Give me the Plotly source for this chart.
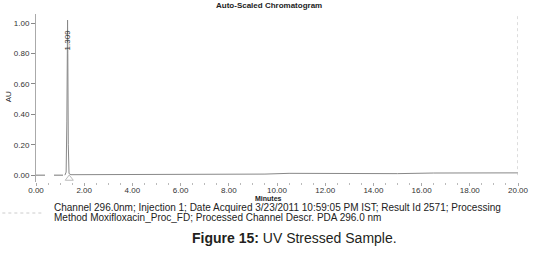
import plotly.graph_objects as go

# Data
baseline_t = [0.0, 0.5, 1.0, 1.2]
baseline_au = [0.0, 0.0, 0.0, 0.0]

time_min = [1.2, 1.25, 1.28, 1.30, 1.309, 1.32, 1.34, 1.37, 1.45, 2.0, 4.0, 6.0, 8.0, 9.5, 10.5, 12.0, 13.0, 15.0, 16.5, 18.0, 20.0]
absorb_au = [0.0, 0.02, 0.35, 0.85, 1.02, 0.80, 0.20, 0.01, 0.003, 0.003, 0.004, 0.005, 0.006, 0.007, 0.012, 0.011, 0.010, 0.010, 0.014, 0.015, 0.015]

peak_rt = [1.309]
peak_label = ["1.309"]
marker_t = [1.38]
marker_au = [-0.022]

x_ticks = [0, 2, 4, 6, 8, 10, 12, 14, 16, 18, 20]
x_tick_text = ["0.00", "2.00", "4.00", "6.00", "8.00", "10.00", "12.00", "14.00", "16.00", "18.00", "20.00"]
y_ticks = [0.0, 0.2, 0.4, 0.6, 0.8, 1.0]
y_tick_text = ["0.00", "0.20", "0.40", "0.60", "0.80", "1.00"]

FONT = "Liberation Sans, Arial, sans-serif"

fig = go.Figure()
fig.add_trace(go.Scatter(x=baseline_t, y=baseline_au, mode="lines",
                         line=dict(color="#777777", width=1, dash="dash"), hoverinfo="skip"))
fig.add_trace(go.Scatter(x=time_min, y=absorb_au, mode="lines",
                         line=dict(color="#888888", width=1), hoverinfo="skip"))
fig.add_trace(go.Scatter(x=marker_t, y=marker_au, mode="markers",
                         marker=dict(symbol="triangle-up-open", size=7, color="#bbbbbb", line=dict(width=1)),
                         hoverinfo="skip"))

# plot area in pixels: x 36..523, y 14..182
L, R, T, B = 36, 523, 14, 182
W, H = R - L, B - T
def px(x):
    return (x - L) / W
def py(y):
    return (B - y) / H

fig.add_annotation(x=peak_rt[0], y=0.89, xref="x", yref="y", text=peak_label[0], textangle=-90,
                   showarrow=False, font=dict(family=FONT, size=8, color="#333333"))

anns = [
    dict(x=px(271), y=py(6), text="<b>Auto-Scaled Chromatogram</b>", size=8, xanchor="center"),
    dict(x=px(271), y=py(198), text="<b>Minutes</b>", size=7, xanchor="center"),
    dict(x=px(8), y=py(97), text="AU", size=8, xanchor="center", angle=-90),
    dict(x=px(52), y=py(207), text="Channel 296.0nm; Injection 1; Date Acquired 3/23/2011 10:59:05 PM IST; Result Id 2571; Processing",
         size=10, xanchor="left"),
    dict(x=px(52), y=py(218), text="Method Moxifloxacin_Proc_FD; Processed Channel Descr. PDA 296.0 nm",
         size=10, xanchor="left"),
    dict(x=px(297), y=py(238), text="<b>Figure 15:</b> UV Stressed Sample.", size=14, xanchor="center", color="#231f20"),
]
for a in anns:
    fig.add_annotation(x=a["x"], y=a["y"], xref="paper", yref="paper", text=a["text"],
                       showarrow=False, xanchor=a["xanchor"], yanchor="middle",
                       textangle=a.get("angle", 0),
                       font=dict(family=FONT, size=a["size"], color=a.get("color", "#222222")))

# right border dotted line & left dotted stub near caption
fig.add_shape(type="line", xref="x", yref="y", x0=20, x1=20, y0=0.0, y1=1.06,
              line=dict(color="#bbbbbb", width=1, dash="dot"))
fig.add_shape(type="line", xref="paper", yref="paper", x0=px(2), x1=px(42), y0=py(213), y1=py(213),
              line=dict(color="#cccccc", width=1, dash="dot"))

fig.update_layout(
    width=541, height=254,
    margin=dict(l=L, r=541 - R, t=T, b=254 - B),
    paper_bgcolor="white", plot_bgcolor="white",
    showlegend=False,
    font=dict(family=FONT, size=8, color="#333333"),
    xaxis=dict(range=[0, 20], tickvals=x_ticks, ticktext=x_tick_text, showgrid=False, zeroline=False,
               showline=False, ticks="outside", ticklen=3, tickcolor="#aaaaaa", ticklabelstandoff=-3,
               minor=dict(dtick=0.5, ticks="outside", ticklen=2, tickcolor="#bbbbbb"),
               tickfont=dict(size=8, color="#333333")),
    yaxis=dict(range=[-0.045, 1.06], tickvals=y_ticks, ticktext=y_tick_text, showgrid=False, zeroline=False,
               showline=True, linecolor="#aaaaaa", linewidth=1, ticks="outside", ticklen=4, tickcolor="#888888",
               tickfont=dict(size=8, color="#333333")),
)

fig.write_html("out.html")
